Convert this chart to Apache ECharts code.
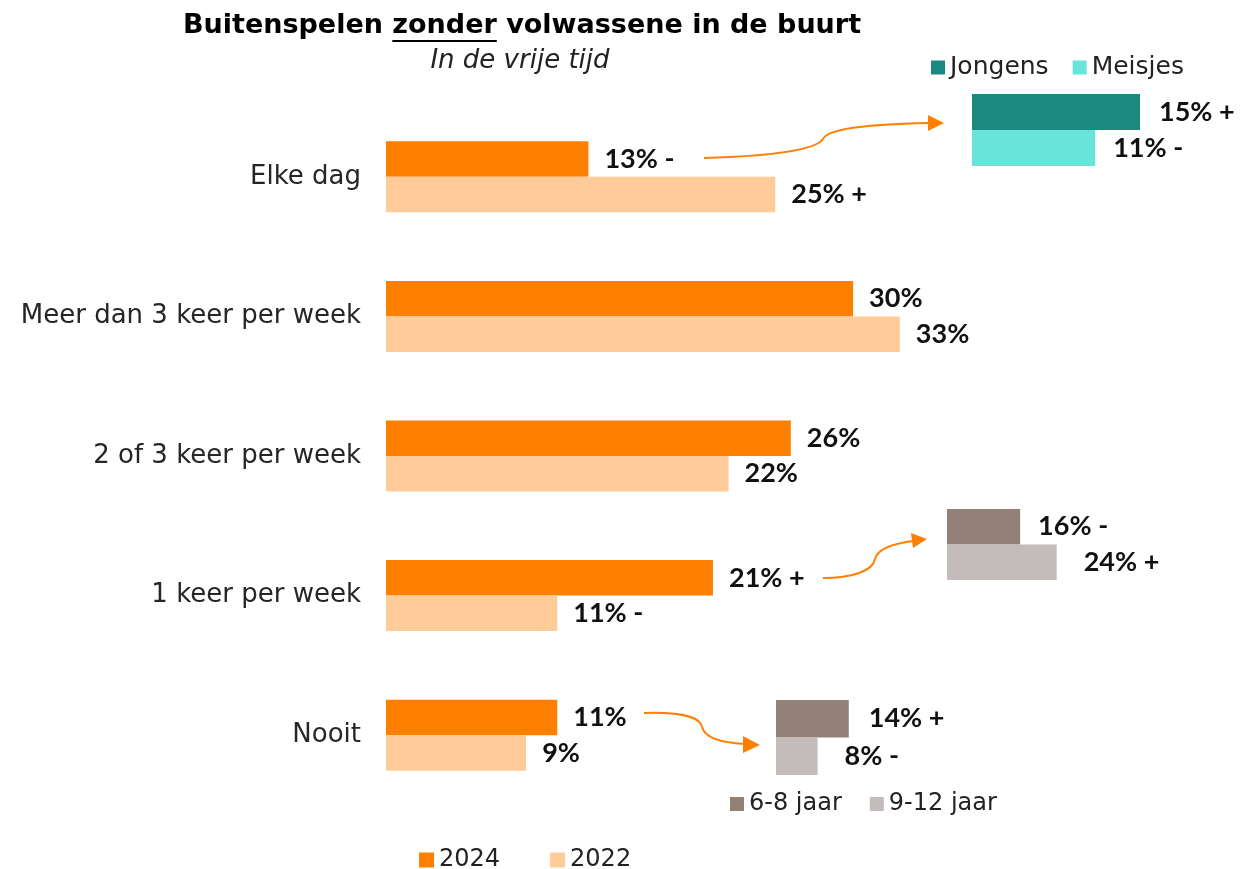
<!DOCTYPE html>
<html>
<head>
<meta charset="utf-8">
<script src="https://cdn.jsdelivr.net/npm/echarts@6/dist/echarts.min.js"></script>
<style>
  html, body { margin: 0; padding: 0; background: #fff; }
  #chart { width: 1246px; height: 869px; }
</style>
</head>
<body>
<div id="chart"></div>
<script>
// hoofdgrafiek
var categories = ['Elke dag', 'Meer dan 3 keer per week', '2 of 3 keer per week', '1 keer per week', 'Nooit'];
var values2024 = [13, 30, 26, 21, 11];
var values2022 = [25, 33, 22, 11, 9];
var sig2024 = ['-', '', '', '+', ''];
var sig2022 = ['+', '', '', '-', ''];

// uitsplitsing jongens/meisjes (Elke dag)
var genderCategory = ['Elke dag'];
var jongens = [15];
var meisjes = [11];
var sigJongens = ['+'];
var sigMeisjes = ['-'];

// uitsplitsing leeftijd (1 keer per week)
var weekCategory = ['1 keer per week'];
var week68 = [16];
var week912 = [24];
var sigWeek68 = ['-'];
var sigWeek912 = ['+'];

// uitsplitsing leeftijd (Nooit)
var nooitCategory = ['Nooit'];
var nooit68 = [14];
var nooit912 = [8];
var sigNooit68 = ['+'];
var sigNooit912 = ['-'];

var FONT = '"DejaVu Sans", sans-serif';
var LABEL_FONT = 'Lato, "DejaVu Sans", sans-serif';
var ORANGE = '#FF7F00';
var TITLE = ['Buitenspelen ', 'zonder', ' volwassene in de buurt'];
var TITLE_SIZE = 27;
var TITLE_X = 522;

function lbl(sig, dist) {
  return {
    show: true,
    position: 'right',
    distance: dist || 16,
    fontFamily: LABEL_FONT,
    fontWeight: 'bold',
    fontSize: 27,
    color: '#111',
    formatter: function (p) {
      var s = sig[p.dataIndex];
      return p.value + '%' + (s ? ' ' + s : '');
    }
  };
}

function hiddenX(idx, max) {
  return { gridIndex: idx, type: 'value', min: 0, max: max, show: false };
}
function hiddenY(idx, data) {
  return { gridIndex: idx, type: 'category', data: data, inverse: true, show: false };
}

// onderstreping onder "zonder" uitmeten
var ctx = document.createElement('canvas').getContext('2d');
ctx.font = 'bold ' + TITLE_SIZE + 'px ' + FONT;
var wFull = ctx.measureText(TITLE.join('')).width;
var wPre = ctx.measureText(TITLE[0]).width;
var wU = ctx.measureText(TITLE[1]).width;
var uX = TITLE_X - wFull / 2 + wPre;

var myChart = echarts.init(document.getElementById('chart'));

var option = {
  animation: false,
  title: [
    {
      text: TITLE.join(''),
      left: TITLE_X, top: 12, textAlign: 'center', padding: 0,
      textStyle: { fontFamily: FONT, fontWeight: 'bold', fontSize: TITLE_SIZE, color: '#000' }
    },
    {
      text: 'In de vrije tijd',
      left: 520, top: 48, textAlign: 'center', padding: 0,
      textStyle: { fontFamily: FONT, fontStyle: 'italic', fontWeight: 'normal', fontSize: 26, color: '#222' }
    }
  ],
  legend: [
    {
      data: ['2024', '2022'],
      left: 414, top: 843,
      icon: 'rect', itemWidth: 15, itemHeight: 15, itemGap: 50,
      textStyle: { fontFamily: FONT, fontSize: 24, color: '#222' }
    },
    {
      data: ['Jongens', 'Meisjes'],
      left: 926, top: 50,
      icon: 'rect', itemWidth: 14, itemHeight: 14, itemGap: 24,
      textStyle: { fontFamily: FONT, fontSize: 25, color: '#222' }
    },
    {
      data: ['6-8 jaar', '9-12 jaar'],
      left: 725, top: 787,
      icon: 'rect', itemWidth: 14, itemHeight: 14, itemGap: 28,
      textStyle: { fontFamily: FONT, fontSize: 24, color: '#222' }
    }
  ],
  grid: [
    { left: 386, top: 107, width: 778.5, height: 698 },
    { left: 972, top: 94, width: 224, height: 72 },
    { left: 947, top: 509, width: 137.1, height: 71 },
    { left: 776, top: 700, width: 104, height: 75 }
  ],
  xAxis: [hiddenX(0, 50), hiddenX(1, 20), hiddenX(2, 30), hiddenX(3, 20)],
  yAxis: [
    {
      gridIndex: 0, type: 'category', data: categories, inverse: true,
      axisLine: { show: false }, axisTick: { show: false }, splitLine: { show: false },
      axisLabel: { fontFamily: FONT, fontSize: 26, color: '#262626', margin: 25 }
    },
    hiddenY(1, genderCategory),
    hiddenY(2, weekCategory),
    hiddenY(3, nooitCategory)
  ],
  series: [
    {
      name: '2024', type: 'bar', xAxisIndex: 0, yAxisIndex: 0,
      data: values2024, barWidth: 35.5, barGap: '0%', itemStyle: { color: ORANGE },
      label: lbl(sig2024)
    },
    {
      name: '2022', type: 'bar', xAxisIndex: 0, yAxisIndex: 0,
      data: values2022, barWidth: 35.5, barGap: '0%', itemStyle: { color: '#FFCC99' },
      label: lbl(sig2022)
    },
    {
      name: 'Jongens', type: 'bar', xAxisIndex: 1, yAxisIndex: 1,
      data: jongens, barWidth: 36, barGap: '0%', itemStyle: { color: '#1A8A80' },
      label: lbl(sigJongens, 19)
    },
    {
      name: 'Meisjes', type: 'bar', xAxisIndex: 1, yAxisIndex: 1,
      data: meisjes, barWidth: 36, barGap: '0%', itemStyle: { color: '#68E4DA' },
      label: lbl(sigMeisjes, 18)
    },
    {
      name: '6-8 jaar', type: 'bar', xAxisIndex: 2, yAxisIndex: 2,
      data: week68, barWidth: 35.5, barGap: '0%', itemStyle: { color: '#938179' },
      label: lbl(sigWeek68, 18)
    },
    {
      name: '9-12 jaar', type: 'bar', xAxisIndex: 2, yAxisIndex: 2,
      data: week912, barWidth: 35.5, barGap: '0%', itemStyle: { color: '#C4BBBB' },
      label: lbl(sigWeek912, 27)
    },
    {
      name: '6-8 jaar', type: 'bar', xAxisIndex: 3, yAxisIndex: 3,
      data: nooit68, barWidth: 37.5, barGap: '0%', itemStyle: { color: '#938179' },
      label: lbl(sigNooit68, 20)
    },
    {
      name: '9-12 jaar', type: 'bar', xAxisIndex: 3, yAxisIndex: 3,
      data: nooit912, barWidth: 37.5, barGap: '0%', itemStyle: { color: '#C4BBBB' },
      label: lbl(sigNooit912, 27)
    }
  ],
  graphic: [
    // onderstreping "zonder"
    { type: 'rect', shape: { x: uX, y: 40, width: wU, height: 2 }, style: { fill: '#000' } },
    // pijl Elke dag -> jongens/meisjes
    { type: 'bezierCurve', shape: { x1: 704, y1: 158, cpx1: 770, cpy1: 156, cpx2: 816, cpy2: 150, x2: 823, y2: 139 },
      style: { stroke: ORANGE, lineWidth: 2, fill: null } },
    { type: 'bezierCurve', shape: { x1: 823, y1: 139, cpx1: 828, cpy1: 127, cpx2: 880, cpy2: 124, x2: 929, y2: 123 },
      style: { stroke: ORANGE, lineWidth: 2, fill: null } },
    { type: 'polygon', shape: { points: [[928, 115], [944, 123], [928, 131]] }, style: { fill: ORANGE } },
    // pijl 1 keer per week -> leeftijd
    { type: 'bezierCurve', shape: { x1: 823, y1: 578, cpx1: 852, cpy1: 578, cpx2: 873, cpy2: 571, x2: 875, y2: 559 },
      style: { stroke: ORANGE, lineWidth: 2, fill: null } },
    { type: 'bezierCurve', shape: { x1: 875, y1: 559, cpx1: 878, cpy1: 547, cpx2: 898, cpy2: 543, x2: 913, y2: 541 },
      style: { stroke: ORANGE, lineWidth: 2, fill: null } },
    { type: 'polygon', shape: { points: [[911, 533], [927, 539], [913, 548]] }, style: { fill: ORANGE } },
    // pijl Nooit -> leeftijd
    { type: 'bezierCurve', shape: { x1: 644, y1: 713, cpx1: 676, cpy1: 712, cpx2: 700, cpy2: 716, x2: 702, y2: 727 },
      style: { stroke: ORANGE, lineWidth: 2, fill: null } },
    { type: 'bezierCurve', shape: { x1: 702, y1: 727, cpx1: 705, cpy1: 739, cpx2: 726, cpy2: 743, x2: 745, y2: 744 },
      style: { stroke: ORANGE, lineWidth: 2, fill: null } },
    { type: 'polygon', shape: { points: [[743, 736], [760, 745], [743, 753]] }, style: { fill: ORANGE } }
  ]
};

myChart.setOption(option);
window.onresize = myChart.resize;
</script>
</body>
</html>
